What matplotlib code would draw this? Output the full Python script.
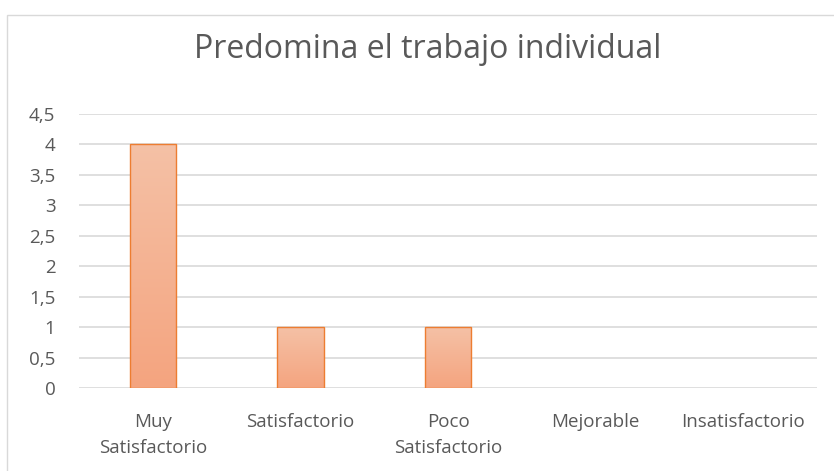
import numpy as np
import matplotlib.pyplot as plt
from matplotlib.patches import Rectangle
from matplotlib.ticker import MultipleLocator, FuncFormatter

# Datos del gráfico
categorias = ["Muy\nSatisfactorio", "Satisfactorio", "Poco\nSatisfactorio", "Mejorable", "Insatisfactorio"]
valores = [4, 1, 1, 0, 0]
titulo = "Predomina el trabajo individual"

# Colores estilo Excel
COLOR_BORDE = "#ED7D31"
COLOR_ARRIBA = "#F5C1A6"
COLOR_ABAJO = "#F4A47F"
COLOR_TEXTO = "#595959"
COLOR_GRID = "#D9D9D9"

plt.rcParams['font.family'] = ['Open Sans', 'DejaVu Sans']

fig = plt.figure(figsize=(8.34, 4.71), dpi=100)
ax = fig.add_axes([79 / 834, (471 - 388) / 471, (817.3 - 79) / 834, (388 - 114) / 471])

x = np.arange(len(categorias))
bordes = [COLOR_BORDE if v > 0 else "none" for v in valores]
barras = ax.bar(x, valores, width=0.314, facecolor="none", edgecolor=bordes,
                linewidth=1.0, zorder=3)

# Relleno con degradado vertical dentro de cada barra
grad = np.linspace(0, 1, 256).reshape(-1, 1)
cmap = plt.matplotlib.colors.LinearSegmentedColormap.from_list("g", [COLOR_ABAJO, COLOR_ARRIBA])
for b in barras:
    if b.get_height() <= 0:
        continue
    x0, w, h = b.get_x(), b.get_width(), b.get_height()
    ax.imshow(grad, cmap=cmap, origin="lower", aspect="auto",
              extent=(x0, x0 + w, 0, h), zorder=2)

ax.set_xlim(-0.5, len(categorias) - 0.5)
ax.set_ylim(0, 4.5)
ax.yaxis.set_major_locator(MultipleLocator(0.5))
ax.yaxis.set_major_formatter(FuncFormatter(lambda v, p: f"{v:g}".replace(".", ",")))
ax.set_xticks(x)
ax.set_xticklabels(categorias, fontsize=13.5, color=COLOR_TEXTO, linespacing=1.6)
ax.tick_params(axis="y", labelsize=13.5, labelcolor=COLOR_TEXTO, length=0, pad=17)
ax.tick_params(axis="x", length=0, pad=18)
for lbl in ax.get_xticklabels():
    lbl.set_verticalalignment("top")

ax.grid(axis="y", color=COLOR_GRID, linewidth=1.2, zorder=0)
for s in ax.spines.values():
    s.set_visible(False)

fig.text(428 / 834, 1 - 50 / 471, titulo, ha="center", va="center",
         fontsize=23, color=COLOR_TEXTO)

# Borde del área del gráfico
fig.patches.append(Rectangle((7 / 834, -0.1), 1.2, 1 - 15 / 471 + 0.1,
                             transform=fig.transFigure, facecolor="none",
                             edgecolor="#D9D9D9", linewidth=1.0))

fig.savefig("out.png", dpi=100)
